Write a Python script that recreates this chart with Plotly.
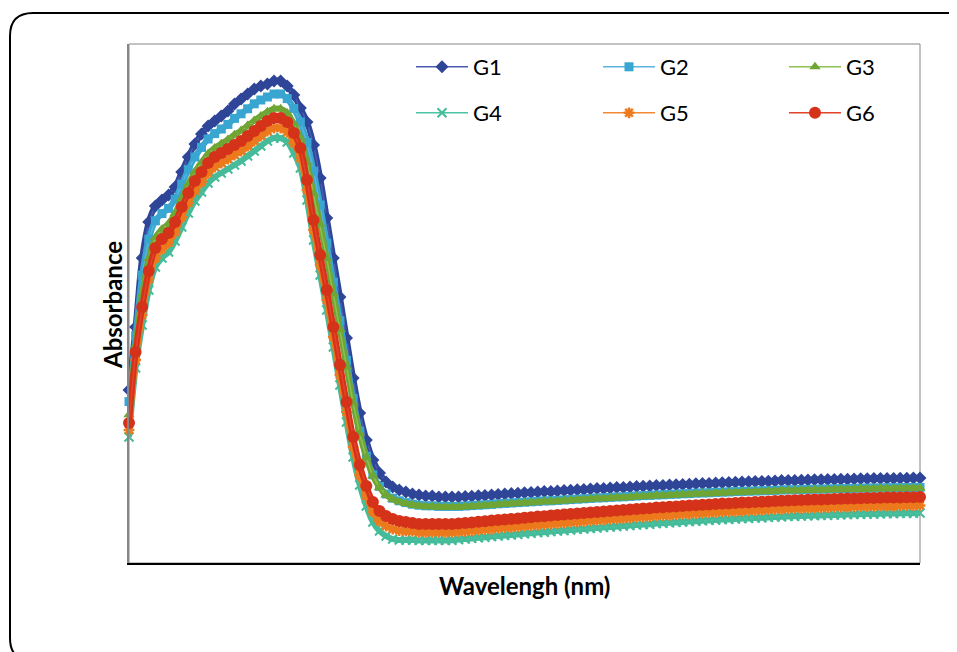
import plotly.graph_objects as go

wavelength = list(range(200, 805, 5))

G1 = [0.865, 1.180, 1.525, 1.705, 1.785, 1.815, 1.840, 1.880, 1.955, 2.030,
      2.095, 2.145, 2.185, 2.210, 2.235, 2.260, 2.295, 2.320, 2.345, 2.370,
      2.385, 2.395, 2.410, 2.410, 2.385, 2.340, 2.275, 2.205, 2.090, 1.925,
      1.725, 1.525, 1.330, 1.125, 0.925, 0.750, 0.615, 0.515, 0.450, 0.405,
      0.380, 0.365, 0.355, 0.345, 0.340, 0.335, 0.335, 0.330, 0.330, 0.330,
      0.330,
      0.332, 0.334, 0.336, 0.338, 0.340, 0.343, 0.345, 0.347, 0.349, 0.351,
      0.353, 0.355, 0.357, 0.358, 0.360, 0.362, 0.364, 0.366, 0.368, 0.370,
      0.372, 0.373, 0.375, 0.377, 0.378, 0.380, 0.382, 0.384, 0.385, 0.387,
      0.388, 0.390, 0.391, 0.393, 0.394, 0.396, 0.397, 0.398, 0.400, 0.401,
      0.402, 0.404, 0.405, 0.406, 0.407, 0.408, 0.409, 0.410, 0.412, 0.413,
      0.413, 0.414, 0.415, 0.416, 0.416, 0.417, 0.418, 0.419, 0.419, 0.420,
      0.421, 0.421, 0.422, 0.422, 0.423, 0.423, 0.424, 0.424, 0.425, 0.425]

G2 = [0.807, 1.136, 1.439, 1.619, 1.711, 1.747, 1.773, 1.819, 1.894, 1.967,
      2.030, 2.078, 2.120, 2.147, 2.170, 2.193, 2.223, 2.246, 2.271, 2.296,
      2.315, 2.330, 2.345, 2.345, 2.322, 2.273, 2.205, 2.103, 1.959, 1.790,
      1.599, 1.404, 1.211, 1.013, 0.822, 0.659, 0.534, 0.441, 0.383, 0.345,
      0.324, 0.311, 0.302, 0.294, 0.289, 0.286, 0.286, 0.283, 0.283, 0.283,
      0.283,
      0.285, 0.287, 0.289, 0.291, 0.293, 0.296, 0.298, 0.300, 0.302, 0.304,
      0.306, 0.308, 0.310, 0.311, 0.313, 0.315, 0.317, 0.319, 0.321, 0.323,
      0.325, 0.326, 0.328, 0.330, 0.331, 0.333, 0.335, 0.337, 0.338, 0.340,
      0.341, 0.343, 0.344, 0.346, 0.347, 0.349, 0.350, 0.351, 0.353, 0.354,
      0.355, 0.357, 0.358, 0.359, 0.360, 0.361, 0.362, 0.363, 0.365, 0.366,
      0.366, 0.367, 0.368, 0.369, 0.369, 0.370, 0.371, 0.372, 0.372, 0.373,
      0.374, 0.374, 0.375, 0.375, 0.376, 0.376, 0.377, 0.377, 0.378, 0.378]

G3 = [0.741, 1.086, 1.341, 1.521, 1.627, 1.669, 1.697, 1.749, 1.824, 1.895,
      1.956, 2.002, 2.046, 2.075, 2.096, 2.117, 2.141, 2.162, 2.187, 2.212,
      2.235, 2.256, 2.271, 2.271, 2.250, 2.197, 2.125, 2.002, 1.846, 1.694,
      1.523, 1.346, 1.167, 0.981, 0.801, 0.646, 0.528, 0.435, 0.378, 0.340,
      0.319, 0.306, 0.298, 0.290, 0.286, 0.283, 0.283, 0.280, 0.280, 0.280,
      0.280,
      0.282, 0.284, 0.286, 0.288, 0.290, 0.293, 0.295, 0.297, 0.299, 0.301,
      0.303, 0.305, 0.307, 0.308, 0.310, 0.312, 0.314, 0.316, 0.318, 0.320,
      0.322, 0.323, 0.325, 0.327, 0.328, 0.330, 0.332, 0.334, 0.335, 0.337,
      0.338, 0.340, 0.341, 0.343, 0.344, 0.346, 0.347, 0.348, 0.350, 0.351,
      0.352, 0.354, 0.355, 0.356, 0.357, 0.358, 0.359, 0.360, 0.362, 0.363,
      0.363, 0.364, 0.365, 0.366, 0.366, 0.367, 0.368, 0.369, 0.369, 0.370,
      0.371, 0.371, 0.372, 0.372, 0.373, 0.373, 0.374, 0.374, 0.375, 0.375]

G4 = [0.630, 0.975, 1.190, 1.365, 1.480, 1.525, 1.555, 1.610, 1.680, 1.750,
      1.810, 1.855, 1.900, 1.930, 1.950, 1.970, 1.990, 2.010, 2.035, 2.060,
      2.085, 2.110, 2.125, 2.125, 2.105, 2.050, 1.975, 1.815, 1.615, 1.440,
      1.265, 1.080, 0.890, 0.705, 0.530, 0.390, 0.285, 0.205, 0.160, 0.135,
      0.120, 0.115, 0.115, 0.115, 0.113, 0.113, 0.113, 0.113, 0.113, 0.114,
      0.117,
      0.120, 0.123, 0.126, 0.129, 0.132, 0.135, 0.138, 0.140, 0.143, 0.146,
      0.149, 0.152, 0.154, 0.157, 0.160, 0.162, 0.165, 0.168, 0.170, 0.173,
      0.175, 0.178, 0.180, 0.182, 0.185, 0.187, 0.190, 0.192, 0.194, 0.197,
      0.199, 0.201, 0.203, 0.205, 0.207, 0.209, 0.211, 0.213, 0.215, 0.217,
      0.218, 0.220, 0.222, 0.223, 0.225, 0.226, 0.228, 0.230, 0.231, 0.233,
      0.234, 0.235, 0.236, 0.237, 0.238, 0.239, 0.240, 0.241, 0.242, 0.243,
      0.244, 0.245, 0.245, 0.246, 0.247, 0.247, 0.248, 0.249, 0.249, 0.250]

G5 = [0.665, 1.015, 1.240, 1.420, 1.525, 1.570, 1.600, 1.655, 1.730, 1.800,
      1.860, 1.905, 1.950, 1.980, 2.000, 2.020, 2.040, 2.060, 2.085, 2.110,
      2.135, 2.160, 2.175, 2.175, 2.155, 2.100, 2.025, 1.865, 1.665, 1.490,
      1.315, 1.130, 0.940, 0.755, 0.580, 0.440, 0.335, 0.255, 0.210, 0.185,
      0.170, 0.162, 0.159, 0.158, 0.153, 0.153, 0.153, 0.153, 0.153, 0.153,
      0.155,
      0.158, 0.161, 0.164, 0.167, 0.170, 0.173, 0.176, 0.178, 0.181, 0.184,
      0.187, 0.190, 0.192, 0.195, 0.198, 0.200, 0.203, 0.206, 0.208, 0.211,
      0.213, 0.216, 0.218, 0.220, 0.223, 0.225, 0.228, 0.230, 0.232, 0.235,
      0.237, 0.239, 0.241, 0.243, 0.245, 0.247, 0.249, 0.251, 0.253, 0.255,
      0.256, 0.258, 0.260, 0.261, 0.263, 0.264, 0.266, 0.268, 0.269, 0.271,
      0.272, 0.273, 0.274, 0.275, 0.276, 0.277, 0.278, 0.279, 0.280, 0.281,
      0.282, 0.283, 0.283, 0.284, 0.285, 0.285, 0.286, 0.287, 0.287, 0.288]

G6 = [0.700, 1.055, 1.280, 1.460, 1.575, 1.620, 1.650, 1.705, 1.780, 1.850,
      1.910, 1.955, 2.000, 2.030, 2.050, 2.070, 2.090, 2.110, 2.135, 2.160,
      2.185, 2.210, 2.225, 2.225, 2.205, 2.150, 2.075, 1.915, 1.715, 1.540,
      1.365, 1.180, 0.990, 0.805, 0.630, 0.490, 0.385, 0.305, 0.260, 0.235,
      0.220, 0.210, 0.205, 0.200, 0.195, 0.195, 0.195, 0.195, 0.195, 0.195,
      0.197,
      0.200, 0.203, 0.206, 0.209, 0.212, 0.215, 0.218, 0.220, 0.223, 0.226,
      0.229, 0.232, 0.234, 0.237, 0.240, 0.242, 0.245, 0.248, 0.250, 0.253,
      0.255, 0.258, 0.260, 0.262, 0.265, 0.267, 0.270, 0.272, 0.274, 0.277,
      0.279, 0.281, 0.283, 0.285, 0.287, 0.289, 0.291, 0.293, 0.295, 0.297,
      0.298, 0.300, 0.302, 0.303, 0.305, 0.306, 0.308, 0.310, 0.311, 0.313,
      0.314, 0.315, 0.316, 0.317, 0.318, 0.319, 0.320, 0.321, 0.322, 0.323,
      0.324, 0.325, 0.325, 0.326, 0.327, 0.327, 0.328, 0.329, 0.329, 0.330]

series_names = ["G1", "G2", "G3", "G4", "G5", "G6"]
series_values = [G1, G2, G3, G4, G5, G6]

styles = {
    "G1": dict(line="#4a5db0", fill="#2f4598", symbol="diamond", size=10, lw=0),
    "G2": dict(line="#5ab4dc", fill="#38a6d0", symbol="square", size=9, lw=0),
    "G3": dict(line="#8cc051", fill="#6fa534", symbol="triangle-up", size=10, lw=0),
    "G4": dict(line="#4cc3a2", fill="#45bb9a", symbol="x-thin", size=9, lw=2),
    "G5": dict(line="#f28a35", fill="#ec7a1c", symbol="asterisk", size=9, lw=2.5),
    "G6": dict(line="#e2442a", fill="#d5321a", symbol="circle", size=12, lw=0),
}

# The page body has an 8px margin; work in screen pixels and convert.
OFF = 8
W, H = 957 - OFF, 652 - OFF
SL, SR, ST, SB = 129, 920, 44, 563          # plot area in screen pixels
L, R, T, B = SL - OFF, SR - OFF, ST - OFF, SB - OFF

def px_x(sx):
    return (sx - SL) / (SR - SL)

def px_y(sy):
    return (SB - sy) / (SB - ST)

def P(sx, sy):
    return f"{px_x(sx):.5f},{px_y(sy):.5f}"

FONT = "Lato"
legend_cols = [411, 598, 784]
legend_rows = [67, 113]
legend_ids = ["legend", "legend2", "legend3", "legend4", "legend5", "legend6"]

fig = go.Figure()
for i, (name, vals) in enumerate(zip(series_names, series_values)):
    s = styles[name]
    # continuous band under the markers
    fig.add_trace(go.Scatter(
        x=wavelength, y=vals, mode="lines", showlegend=False, hoverinfo="skip",
        line=dict(color=s["fill"], width=6, shape="spline"), cliponaxis=False))
    marker = dict(symbol=s["symbol"], size=s["size"], color=s["fill"])
    marker["line"] = dict(color=s["fill"], width=s["lw"]) if s["lw"] else dict(width=0)
    fig.add_trace(go.Scatter(
        x=wavelength, y=vals, name=name, mode="lines+markers",
        line=dict(color=s["line"], width=1.5), marker=marker,
        cliponaxis=False, legend=legend_ids[i]))

legends = {}
for i, lid in enumerate(legend_ids):
    legends[lid] = dict(
        x=px_x(legend_cols[i % 3]), y=px_y(legend_rows[i // 3]),
        xanchor="left", yanchor="middle", orientation="h",
        font=dict(family=FONT, size=22, color="#000000"),
        bgcolor="rgba(0,0,0,0)", itemwidth=52,
        itemclick=False, itemdoubleclick=False)

rad = 23
x0, y0, x1, y1 = 10, 13, 971, 661
frame = (f"M {P(x0, y0 + rad)} L {P(x0, y1 - rad)} Q {P(x0, y1)} {P(x0 + rad, y1)} "
         f"L {P(x1 - rad, y1)} Q {P(x1, y1)} {P(x1, y1 - rad)} L {P(x1, y0 + rad)} "
         f"Q {P(x1, y0)} {P(x1 - rad, y0)} L {P(x0 + rad, y0)} Q {P(x0, y0)} {P(x0, y0 + rad)} Z")

fig.update_layout(
    width=W, height=H,
    margin=dict(l=L, r=W - R, t=T, b=H - B),
    paper_bgcolor="white", plot_bgcolor="white",
    showlegend=True,
    xaxis=dict(range=[200, 800], showgrid=False, zeroline=False, showticklabels=False,
               ticks="", showline=True, linecolor="#000000", linewidth=2),
    yaxis=dict(range=[0, (SB - ST) / 200], showgrid=False, zeroline=False, showticklabels=False,
               ticks="", showline=True, linecolor="#868686", linewidth=2),
    shapes=[
        dict(type="rect", xref="paper", yref="paper", x0=0, y0=0, x1=1, y1=1,
             line=dict(color="#868686", width=1), layer="below"),
        dict(type="path", xref="paper", yref="paper", path=frame,
             line=dict(color="#000000", width=2), layer="above"),
    ],
    annotations=[
        dict(text="<b>Absorbance</b>", xref="paper", yref="paper",
             x=px_x(112), y=px_y(305), textangle=-90,
             showarrow=False, font=dict(family=FONT, size=24, color="#000000"),
             xanchor="center", yanchor="middle"),
        dict(text="<b>Wavelengh (nm)</b>", xref="paper", yref="paper",
             x=px_x(524), y=px_y(585),
             showarrow=False, font=dict(family=FONT, size=24, color="#000000"),
             xanchor="center", yanchor="middle"),
    ],
    **legends,
)

fig.write_html("out.html")
